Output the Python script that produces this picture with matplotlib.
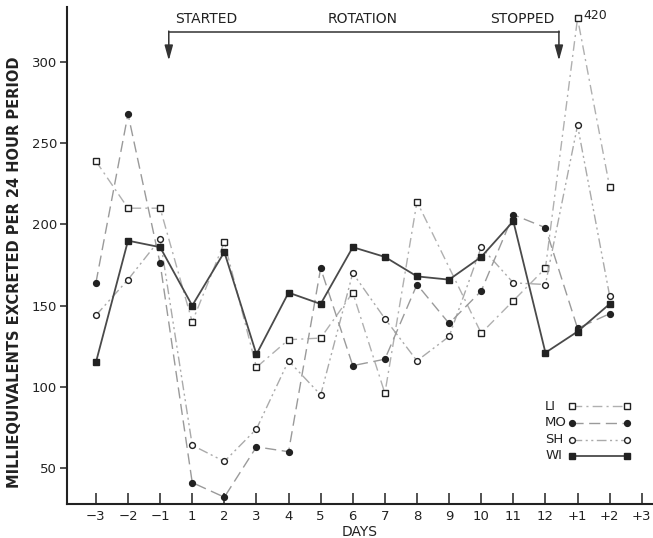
import numpy as np
import matplotlib
matplotlib.use("Agg")
from matplotlib import pyplot as plt
from matplotlib.lines import Line2D

# days before rotation, days of rotation, days after rotation
days = ['\u22123', '\u22122', '\u22121', '1', '2', '3', '4', '5', '6', '7', '8',
        '9', '10', '11', '12', '+1', '+2', '+3']

# milliequivalents excreted per 24 hour period, one list per subject
li = [239, 210, 210, 140, 189, 112, 129, 130, 158, 96, 214, np.nan, 133, 153, 173, 420, 223]
mo = [164, 268, 176, 41, 32, 63, 60, 173, 113, 117, 163, 139, 159, 206, 198, 136, 145]
sh = [144, 166, 191, 64, 54, 74, 116, 95, 170, 142, 116, 131, 186, 164, 163, 261, 156]
wi = [115, 190, 186, 150, 183, 120, 158, 151, 186, 180, 168, 166, 180, 202, 121, 134, 151]

y_cap = 327  # values above this are drawn at the top with their number written

fig = plt.figure(figsize=(6.53, 5.38), dpi=100)
ax = fig.add_axes([0.1026, 0.0632, 0.8974, 0.924])

x = np.arange(len(days))

styles = {
    'LI': dict(linestyle=(0, (7, 3, 1.5, 3)), color='#b0b0b0', marker='s', mfc='white', lw=1.0),
    'MO': dict(linestyle=(0, (8, 4)), color='#9a9a9a', marker='o', mfc='#222222', lw=1.0),
    'SH': dict(linestyle=(0, (7, 2.5, 1.5, 2.5, 1.5, 2.5)), color='#aaaaaa', marker='o',
               mfc='white', lw=1.0),
    'WI': dict(linestyle='-', color='#4a4a4a', marker='s', mfc='#222222', lw=1.3),
}


def draw(vals, name):
    v = np.array(vals, dtype=float)
    ok = ~np.isnan(v)
    xs = x[:len(v)][ok]
    ys = np.minimum(v[ok], y_cap)
    ax.plot(xs, ys, ms=4.2, mec='#222222', mew=1.0, clip_on=False,
            dash_capstyle='butt', **styles[name])


draw(li, 'LI')
draw(sh, 'SH')
draw(mo, 'MO')
draw(wi, 'WI')

# off-scale value for LI on day +1
i_top = 15
ax.text(x[i_top] + 0.18, y_cap + 2, f"{li[i_top]:.0f}", fontsize=9, va='center',
        ha='left', color='#222222')

# rotation bracket
x_start, x_stop = 2.27, 14.42
y_bar, y_tip = 318.5, 301
ax.plot([x_start, x_stop], [y_bar, y_bar], color='#333333', lw=1.1, clip_on=False)
for xa in (x_start, x_stop):
    ax.annotate('', xy=(xa, y_tip), xytext=(xa, y_bar + 0.6),
                arrowprops=dict(arrowstyle='-|>,head_length=0.9,head_width=0.25',
                                color='#333333', lw=1.1, shrinkA=0, shrinkB=0))
ax.text(3.45, 322, 'STARTED', fontsize=10, ha='center', va='bottom', color='#222222')
ax.text(8.32, 322, 'ROTATION', fontsize=10, ha='center', va='bottom', color='#222222')
ax.text(13.27, 322, 'STOPPED', fontsize=10, ha='center', va='bottom', color='#222222')

ax.set_xlim(-0.9, 17.35)
ax.set_ylim(27.8, 334)
ax.set_xticks(x)
ax.set_xticklabels(days, fontsize=9.5)
ax.set_yticks([50, 100, 150, 200, 250, 300])
ax.tick_params(axis='x', direction='in', length=8, width=1.1, pad=4, colors='#222222')
ax.tick_params(axis='y', direction='out', length=5, width=1.1, pad=2,
               labelsize=9.5, colors='#222222')

for side in ('top', 'right'):
    ax.spines[side].set_visible(False)
for side in ('left', 'bottom'):
    ax.spines[side].set_linewidth(1.5)
    ax.spines[side].set_color('#222222')

ax.set_xlabel('DAYS', fontsize=10, labelpad=2, color='#222222')
ax.set_ylabel('MILLIEQUIVALENTS EXCRETED PER 24 HOUR PERIOD', fontsize=10.5,
              fontweight='bold', color='#222222')
ax.yaxis.set_label_coords(-0.077, 0.467)

# key: name on the left, line sample with end markers on the right
key_rows = [0.197, 0.163, 0.129, 0.097]
for name, ky in zip(['LI', 'MO', 'SH', 'WI'], key_rows):
    ax.text(0.816, ky, name, transform=ax.transAxes, fontsize=9.5,
            va='center', ha='left', color='#222222')
    st = dict(styles[name])
    ax.add_line(Line2D([0.862, 0.956], [ky, ky], transform=ax.transAxes,
                       ms=4.2, mec='#222222', mew=1.0, dash_capstyle='butt', **st))

fig.savefig('out.png', dpi=100)
